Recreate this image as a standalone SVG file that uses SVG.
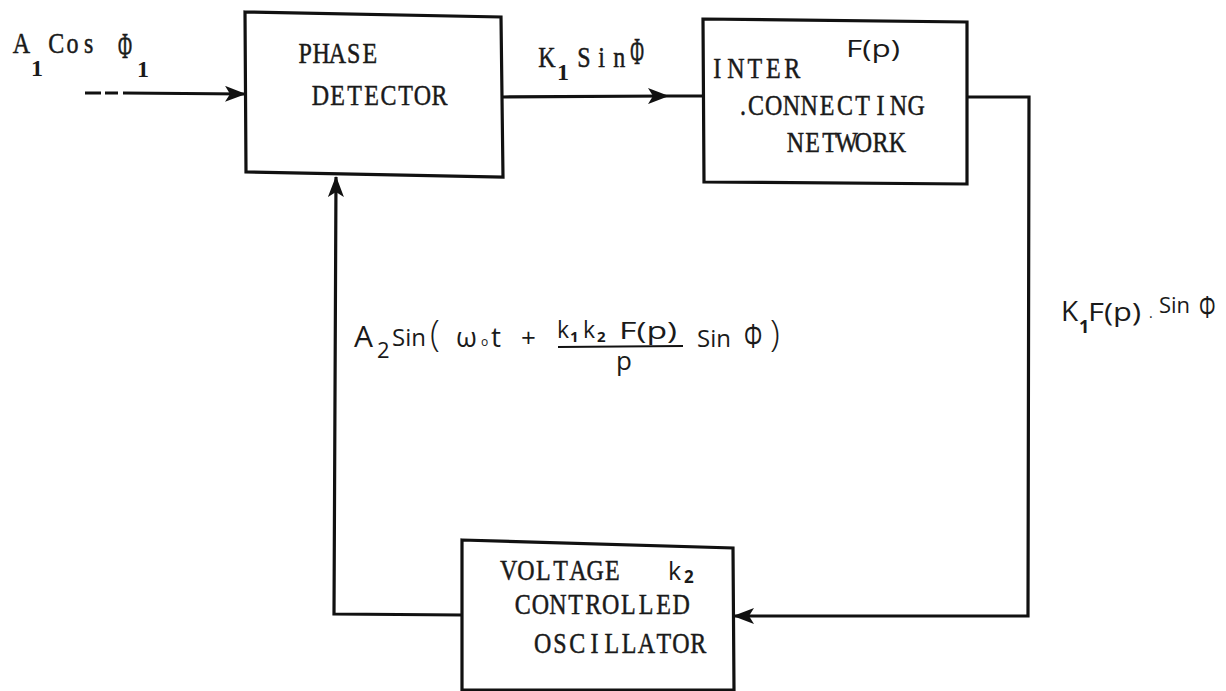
<svg xmlns="http://www.w3.org/2000/svg" width="1226" height="691" viewBox="0 0 1226 691">
<style>
.box{fill:none;stroke:#111;stroke-width:3.2;stroke-linejoin:miter}
.wire{fill:none;stroke:#111;stroke-width:3.2}
.tw{font-family:"Liberation Serif","DejaVu Serif",serif;font-size:24px;fill:#1a1a1a;stroke:#1a1a1a;stroke-width:0.4;text-anchor:middle}
.twb{font-family:"Liberation Serif","DejaVu Serif",serif;font-size:24px;font-weight:bold;fill:#1a1a1a}
.hw{font-family:"Open Sans","Liberation Sans",sans-serif;fill:#1a1a1a}
</style>
<defs>
<marker id="arr" markerUnits="userSpaceOnUse" viewBox="0 0 22 16" markerWidth="22" markerHeight="16" refX="20" refY="8" orient="auto">
<path d="M0,0 L21,8 L0,16 L5,8 Z" fill="#111"/>
</marker>
</defs>
<rect width="1226" height="691" fill="#fff"/>

<g id="connectors">
<path class="wire" d="M85,93 L101,93 M105,93 L118,93 M123,93 L245,94" marker-end="url(#arr)"/>
<path class="wire" d="M503,97 L668,96 L703,96" marker-mid="url(#arr)"/>
<path class="wire" d="M967,97 L1029,97 L1028,616 L734,616" marker-end="url(#arr)"/>
<path class="wire" d="M462,615 L334,614 L336,177" marker-end="url(#arr)"/>
</g>

<g id="phase-detector">
<path class="box" d="M245,12 L501,17 L503,177 L246,172 Z"/>
<text class="tw" transform="translate(297,63) scale(1,1.22)" x="8.1 24.3 40.5 56.7 72.9" y="0">PHASE</text>
<text class="tw" transform="translate(312,105) scale(1,1.22)" x="8.5 25.5 42.5 59.5 76.5 93.5 110.5 127.5" y="0">DETECTOR</text>
</g>

<g id="interconnecting-network">
<path class="box" d="M703,19 L967,22 L967,184 L704,182 Z"/>
<text class="tw" transform="translate(708,78) scale(1,1.22)" x="9.35 28.05 46.75 65.45 84.15" y="0">INTER</text>
<text class="hw" x="846" y="57" font-size="23" textLength="54" lengthAdjust="spacingAndGlyphs">F(p)</text>
<text class="tw" transform="translate(741,115) scale(1,1.22)" x="2" y="0">.</text>
<text class="tw" transform="translate(747,115) scale(1,1.22)" x="8.9 26.7 44.5 62.3 80.1 97.9 115.7 133.5 151.3 169.1" y="0">CONNECTING</text>
<text class="tw" transform="translate(787,152) scale(1,1.22)" x="8.5 25.5 42.5 59.5 76.5 93.5 110.5" y="0">NETWORK</text>
</g>

<g id="vco">
<path class="box" d="M462,540 L733,548 L734,690 L462,690 Z"/>
<text class="tw" transform="translate(500,580) scale(1,1.22)" x="8.65 25.95 43.25 60.55 77.85 95.15 112.45" y="0">VOLTAGE</text>
<text class="hw" x="668" y="580" font-size="25">k</text>
<text class="hw" x="684" y="583" font-size="17" font-weight="bold">2</text>
<text class="tw" transform="translate(514,614) scale(1,1.22)" x="8.8 26.4 44 61.6 79.2 96.8 114.4 132 149.6 167.2" y="0">CONTROLLED</text>
<text class="tw" transform="translate(534,653) scale(1,1.22)" x="8.65 25.95 43.25 60.55 77.85 95.15 112.45 129.75 147.05 164.35" y="0">OSCILLATOR</text>
</g>

<g id="label-input">
<text class="tw" transform="translate(13,53) scale(1,1.22)" x="8.5" y="0">A</text>
<text class="twb" x="31" y="76">1</text>
<text class="tw" transform="translate(48,53) scale(1,1.22)" x="8.15 24.45 40.75" y="0">Cos</text>
<text class="tw" transform="translate(125,58) scale(0.8,1.5)" x="0" y="0">Φ</text>
<text class="twb" x="137" y="77">1</text>
</g>

<g id="label-pd-out">
<text class="tw" transform="translate(538,67) scale(1,1.22)" x="9" y="0">K</text>
<text class="twb" x="557" y="80">1</text>
<text class="tw" transform="translate(575,67) scale(1,1.22)" x="8.85 26.55 44.25" y="0">Sin</text>
<text class="tw" transform="translate(637,64) scale(0.78,1.55)" x="0" y="0">Φ</text>
</g>

<g id="label-network-out">
<text class="hw" x="1061" y="321" font-size="28">K</text>
<text class="hw" x="1079" y="333" font-size="18" font-weight="bold">1</text>
<text class="hw" x="1088" y="321" font-size="26" textLength="53" lengthAdjust="spacingAndGlyphs">F(p)</text>
<text class="hw" x="1149" y="318" font-size="14">.</text>
<text class="hw" x="1159" y="313" font-size="22">Sin</text>
<text class="hw" transform="translate(1199,318) scale(0.8,1.2)" font-size="26">Φ</text>
</g>

<g id="label-feedback">
<text class="hw" x="354" y="347" font-size="30">A</text>
<text class="hw" x="377" y="358" font-size="22">2</text>
<text class="hw" x="392" y="346" font-size="24">Sin</text>
<text class="hw" x="430" y="346" font-size="36" font-weight="300">(</text>
<text class="hw" x="456" y="347" font-size="27">ω</text>
<text class="hw" x="481" y="346" font-size="12">o</text>
<text class="hw" x="491" y="347" font-size="28">t</text>
<text class="hw" x="521" y="347" font-size="26">+</text>
<text class="hw" x="557" y="338" font-size="23">k</text>
<text class="hw" x="570" y="342" font-size="15" font-weight="bold">1</text>
<text class="hw" x="583" y="338" font-size="23">k</text>
<text class="hw" x="597" y="342" font-size="15" font-weight="bold">2</text>
<text class="hw" x="619" y="339" font-size="24" textLength="58" lengthAdjust="spacingAndGlyphs">F(p)</text>
<line x1="558" y1="347" x2="683" y2="346" stroke="#111" stroke-width="2"/>
<text class="hw" x="616" y="370" font-size="26">p</text>
<text class="hw" x="697" y="347" font-size="24">Sin</text>
<text class="hw" transform="translate(744,348) scale(0.85,1.2)" font-size="27">Φ</text>
<text class="hw" x="770" y="346" font-size="36" font-weight="300">)</text>
</g>
</svg>
